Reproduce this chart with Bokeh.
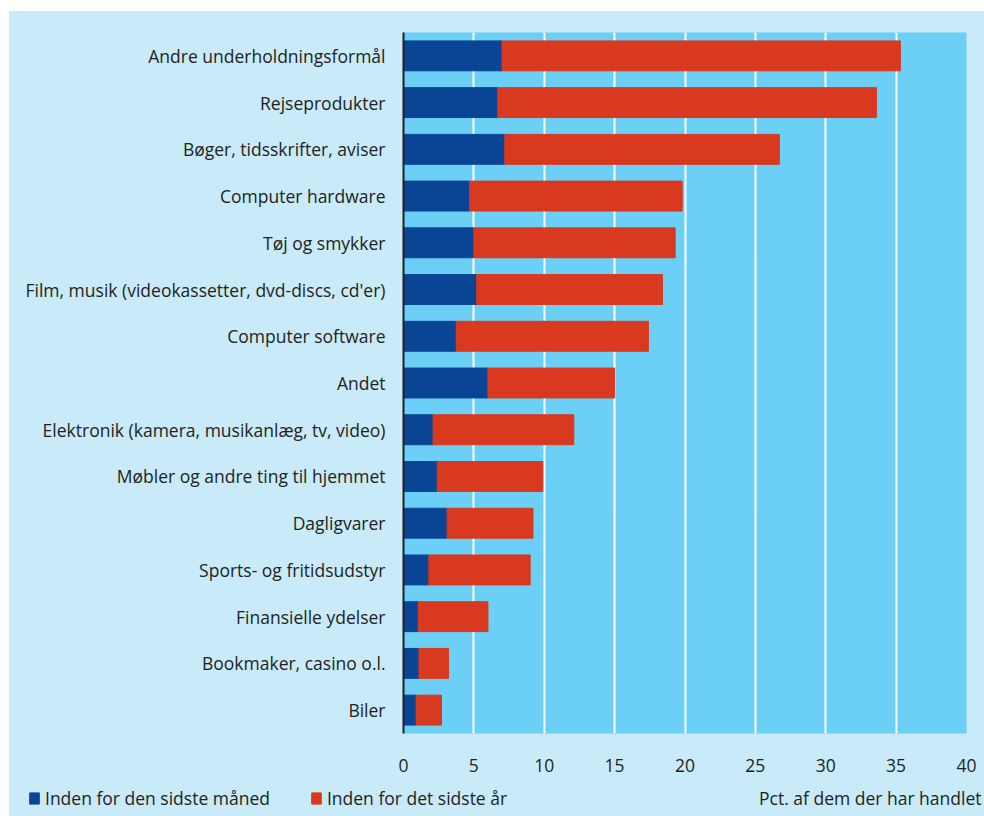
from bokeh.plotting import figure
from bokeh.models import Range1d, Legend, LegendItem, Label, FixedTicker, ColumnDataSource, Spacer
from bokeh.layouts import column, row
from bokeh.embed import file_html
from bokeh.resources import INLINE

categories = [
    "Andre underholdningsformål",
    "Rejseprodukter",
    "Bøger, tidsskrifter, aviser",
    "Computer hardware",
    "Tøj og smykker",
    "Film, musik (videokassetter, dvd-discs, cd'er)",
    "Computer software",
    "Andet",
    "Elektronik (kamera, musikanlæg, tv, video)",
    "Møbler og andre ting til hjemmet",
    "Dagligvarer",
    "Sports- og fritidsudstyr",
    "Finansielle ydelser",
    "Bookmaker, casino o.l.",
    "Biler",
]
# Inden for den sidste måned
month = [7.0, 6.7, 7.2, 4.7, 5.0, 5.2, 3.75, 6.0, 2.1, 2.4, 3.1, 1.8, 1.05, 1.1, 0.9]
# Inden for det sidste år (total)
year = [35.3, 33.6, 26.7, 19.8, 19.3, 18.4, 17.4, 15.0, 12.1, 9.9, 9.2, 9.0, 6.0, 3.2, 2.7]
x_ticks = [0, 5, 10, 15, 20, 25, 30, 35, 40]
series_labels = ["Inden for den sidste måned", "Inden for det sidste år"]
axis_title = "Pct. af dem der har handlet"

OUTER = "#C8EAF9"
PLOT = "#6CCFF6"
BLUE = "#0A4595"
RED = "#D9391E"
TXT = "#231F20"
FONT = "Open Sans"
FS = "17.5px"

p = figure(width=975, height=769, y_range=list(reversed(categories)),
           x_range=Range1d(0, 40), output_backend="svg", toolbar_location=None,
           min_border_left=394, min_border_right=18, min_border_top=21,
           min_border_bottom=47)
p.frame_align = False
p.border_fill_color = OUTER
p.background_fill_color = PLOT
p.outline_line_color = None

src = ColumnDataSource(dict(cat=categories, month=month, year=year))
r1 = p.hbar(y="cat", left=0, right="month", height=0.64, source=src,
            fill_color=BLUE, line_color=BLUE)
r2 = p.hbar(y="cat", left="month", right="year", height=0.64, source=src,
            fill_color=RED, line_color=RED)

p.ygrid.grid_line_color = None
p.xgrid.grid_line_color = "white"
p.xgrid.grid_line_width = 2
p.xgrid.ticker = FixedTicker(ticks=x_ticks)
p.xaxis.ticker = FixedTicker(ticks=x_ticks)

p.xaxis.axis_line_color = None
p.xaxis.major_tick_line_color = None
p.xaxis.minor_tick_line_color = None
p.xaxis.major_label_standoff = 19
p.xaxis.major_label_text_font = FONT
p.xaxis.major_label_text_font_size = FS
p.xaxis.major_label_text_color = TXT

p.yaxis.axis_line_color = TXT
p.yaxis.axis_line_width = 2
p.yaxis.major_tick_line_color = None
p.yaxis.minor_tick_line_color = None
p.yaxis.major_label_standoff = 12
p.yaxis.major_label_text_font = FONT
p.yaxis.major_label_text_font_size = FS
p.yaxis.major_label_text_color = TXT

# bottom strip holding legend and axis title
q = figure(width=975, height=36, x_range=Range1d(0, 975), y_range=Range1d(0, 36),
           output_backend="svg", toolbar_location=None,
           min_border_left=0, min_border_right=0, min_border_top=0, min_border_bottom=0)
q.frame_align = False
q.border_fill_color = OUTER
q.background_fill_color = OUTER
q.outline_line_color = None
q.axis.visible = False
q.grid.grid_line_color = None

# legend proxies (hidden renderers reusing the same data)
k1 = q.hbar(y="month", left=0, right="month", height=1, source=src,
            fill_color=BLUE, line_color=BLUE, visible=False)
k2 = q.hbar(y="month", left="month", right="year", height=1, source=src,
            fill_color=RED, line_color=RED, visible=False)

legend = Legend(items=[LegendItem(label=series_labels[0], renderers=[k1]),
                       LegendItem(label=series_labels[1], renderers=[k2])],
                orientation="horizontal", location=(19, 6),
                background_fill_alpha=0, border_line_color=None,
                padding=0, margin=0, spacing=40, glyph_width=12, glyph_height=14,
                label_standoff=5, label_height=20, label_text_font=FONT,
                label_text_font_size=FS, label_text_color=TXT,
                label_text_baseline="middle", inactive_fill_alpha=0)
q.add_layout(legend)

q.add_layout(Label(x=972, y=19, x_units="screen", y_units="screen",
                   text=axis_title, text_align="right", text_baseline="middle",
                   text_font=FONT, text_font_size=FS, text_color=TXT))

inner = column(p, q, spacing=0, styles={"background-color": OUTER})
layout = column(Spacer(height=11), row(Spacer(width=9), inner))

open("out.html", "w").write(file_html(layout, INLINE))
